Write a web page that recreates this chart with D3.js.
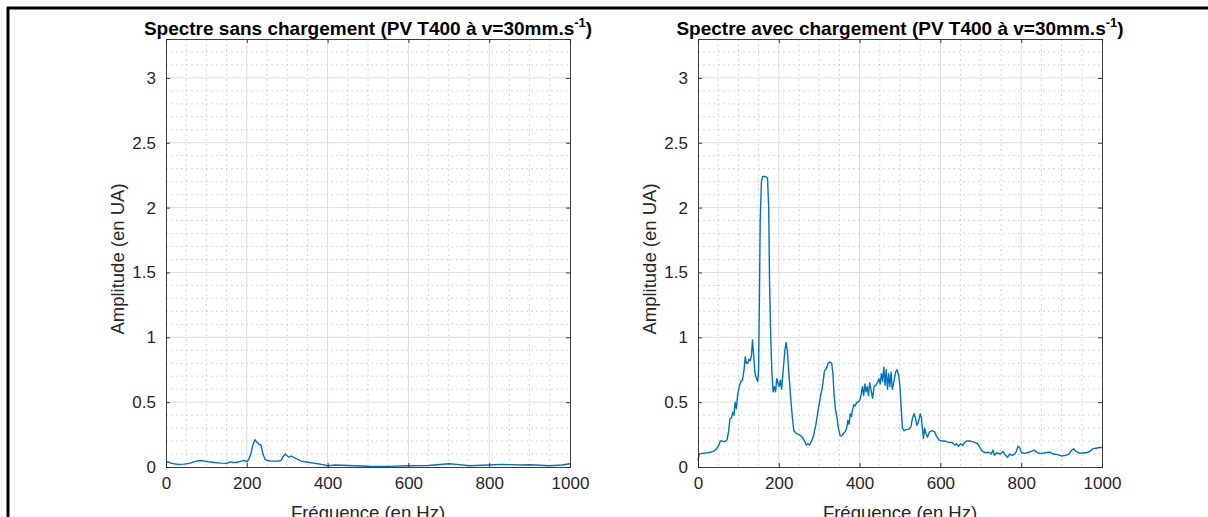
<!DOCTYPE html>
<html>
<head>
<meta charset="utf-8">
<script src="https://cdn.jsdelivr.net/npm/d3@7"></script>
<style>
  body { margin: 0; background: #fff; }
  svg { display: block; font-family: "Liberation Sans", Arial, Helvetica, sans-serif; }
</style>
</head>
<body>
<div id="chart"></div>
<script>
// values: [frequency (Hz), amplitude (UA)]
var sansPoints = [
  [0,0.035],[5,0.04],[12,0.03],[20,0.025],[30,0.02],[45,0.022],[60,0.03],[75,0.045],[85,0.05],
  [95,0.045],[105,0.04],[120,0.035],[135,0.03],[150,0.028],[160,0.04],[165,0.035],[175,0.035],
  [185,0.045],[195,0.05],[200,0.04],[205,0.06],[210,0.1],[215,0.17],[220,0.21],[225,0.19],
  [230,0.175],[235,0.17],[240,0.1],[245,0.06],[250,0.05],[260,0.045],[275,0.045],[285,0.05],
  [290,0.08],[295,0.1],[300,0.085],[305,0.075],[310,0.085],[318,0.07],[325,0.06],[335,0.045],
  [345,0.04],[355,0.035],[365,0.03],[375,0.025],[385,0.02],[400,0.01],[420,0.015],[450,0.012],
  [500,0.006],[550,0.005],[600,0.01],[650,0.012],[700,0.025],[720,0.02],[750,0.01],[800,0.015],
  [830,0.02],[850,0.018],[880,0.015],[900,0.017],[950,0.01],[980,0.015],[1000,0.025]
];

var avecPoints = [
  [0,0.05],[3,0.1],[10,0.105],[25,0.11],[38,0.12],[46,0.14],[52,0.17],[55,0.2],[60,0.2],[66,0.195],
  [72,0.21],[76,0.28],[79,0.37],[83,0.38],[86,0.42],[89,0.40],[92,0.5],[95,0.45],[98,0.55],
  [102,0.62],[106,0.66],[110,0.67],[114,0.75],[117,0.85],[120,0.80],[123,0.80],[126,0.83],
  [129,0.82],[132,0.85],[135,0.98],[138,0.85],[141,0.72],[145,0.68],[148,0.66],[150,0.75],
  [152,1.3],[154,1.9],[157,2.2],[160,2.24],[166,2.24],[172,2.23],[175,2.0],[177,1.45],[180,1.0],
  [183,0.72],[186,0.58],[189,0.62],[192,0.58],[195,0.68],[198,0.65],[201,0.62],[204,0.67],
  [207,0.6],[211,0.75],[215,0.9],[218,0.96],[221,0.9],[225,0.72],[229,0.55],[233,0.4],[237,0.28],
  [243,0.26],[250,0.25],[258,0.23],[264,0.2],[268,0.17],[272,0.18],[276,0.17],[281,0.2],
  [286,0.24],[292,0.33],[298,0.45],[303,0.54],[308,0.62],[313,0.74],[318,0.76],[322,0.8],
  [326,0.81],[331,0.8],[334,0.72],[337,0.55],[340,0.45],[344,0.38],[348,0.29],[352,0.24],
  [356,0.24],[360,0.26],[364,0.27],[368,0.30],[371,0.36],[374,0.33],[377,0.41],[380,0.39],
  [383,0.45],[386,0.48],[389,0.47],[393,0.5],[397,0.5],[401,0.52],[404,0.56],[407,0.62],
  [410,0.55],[413,0.64],[416,0.58],[419,0.62],[422,0.55],[425,0.65],[428,0.6],[432,0.53],
  [436,0.62],[440,0.63],[444,0.65],[448,0.68],[451,0.64],[454,0.72],[457,0.66],[460,0.77],
  [463,0.63],[466,0.75],[469,0.6],[472,0.72],[475,0.62],[478,0.73],[481,0.6],[485,0.66],
  [489,0.73],[493,0.75],[497,0.7],[500,0.62],[503,0.45],[506,0.3],[510,0.28],[516,0.29],
  [522,0.29],[527,0.31],[531,0.38],[535,0.41],[539,0.37],[542,0.32],[546,0.35],[550,0.41],
  [553,0.38],[556,0.28],[558,0.22],[561,0.3],[564,0.26],[568,0.23],[573,0.27],[580,0.28],
  [586,0.27],[590,0.24],[596,0.21],[603,0.2],[612,0.2],[620,0.19],[628,0.19],[636,0.17],
  [640,0.18],[645,0.16],[650,0.18],[655,0.165],[660,0.19],[665,0.2],[675,0.2],[685,0.19],
  [692,0.18],[698,0.15],[704,0.12],[712,0.11],[720,0.115],[726,0.1],[730,0.13],[734,0.09],
  [740,0.11],[748,0.1],[755,0.12],[760,0.095],[766,0.075],[772,0.1],[778,0.09],[784,0.1],
  [788,0.12],[792,0.16],[796,0.15],[801,0.11],[808,0.105],[815,0.11],[825,0.12],[832,0.13],
  [840,0.11],[850,0.105],[860,0.11],[870,0.115],[880,0.1],[890,0.095],[900,0.085],[910,0.09],
  [918,0.1],[925,0.13],[930,0.14],[936,0.12],[945,0.105],[955,0.11],[962,0.11],[970,0.12],
  [977,0.14],[985,0.145],[993,0.15],[1000,0.15]
];

var titles = ["Spectre sans chargement (PV T400 à v=30mm.s", "Spectre avec chargement (PV T400 à v=30mm.s"];
var xTicks = [0, 200, 400, 600, 800, 1000];
var yTicks = [0, 0.5, 1, 1.5, 2, 2.5, 3];
var xLabel = "Fréquence (en Hz)";
var yLabel = "Amplitude (en UA)";

var width = 1208, height = 517;
var axisColor = "#262626", lineColor = "#0072BD";

var svg = d3.select("#chart").append("svg")
  .attr("width", width)
  .attr("height", height);

// outer frame (top + left)
svg.append("line").attr("x1", 7).attr("x2", width).attr("y1", 8).attr("y2", 8)
  .style("stroke", "#000").style("stroke-width", 3);
svg.append("line").attr("x1", 8).attr("x2", 8).attr("y1", 7).attr("y2", height)
  .style("stroke", "#000").style("stroke-width", 3);

/******************************draw one panel***************************************/
function panel(points, title, left) {
  var w = 404, h = 428, top = 39;
  var g = svg.append("g").attr("transform", "translate(" + left + "," + top + ")");

  var x = d3.scaleLinear().domain([0, 1000]).range([0, w]);
  var y = d3.scaleLinear().domain([0, 3.3]).range([h, 0]);

  // minor grid
  g.selectAll(".minorx").data(d3.range(50, 1000, 50).filter(function(d){ return d % 200; }))
    .enter().append("line")
    .attr("x1", x).attr("x2", x).attr("y1", 0).attr("y2", h)
    .style("stroke", "#cccccc").style("stroke-width", 0.8).style("stroke-dasharray", "2,3");
  g.selectAll(".minory").data(d3.range(1, 33).map(function(d){ return d / 10; }).filter(function(d){ return Math.round(d * 10) % 5; }))
    .enter().append("line")
    .attr("y1", y).attr("y2", y).attr("x1", 0).attr("x2", w)
    .style("stroke", "#cccccc").style("stroke-width", 0.8).style("stroke-dasharray", "2,3");

  // major grid
  g.selectAll(".gx").data(xTicks.slice(1, -1)).enter().append("line")
    .attr("x1", x).attr("x2", x).attr("y1", 0).attr("y2", h)
    .style("stroke", "#dcdcdc").style("stroke-width", 1);
  g.selectAll(".gy").data(yTicks.slice(1)).enter().append("line")
    .attr("y1", y).attr("y2", y).attr("x1", 0).attr("x2", w)
    .style("stroke", "#dcdcdc").style("stroke-width", 1);

  // curve
  var line = d3.line()
    .x(function(d){ return x(d[0]); })
    .y(function(d){ return y(d[1]); });
  g.append("path").datum(points)
    .attr("d", line)
    .style("fill", "none")
    .style("stroke", lineColor)
    .style("stroke-width", 1.4)
    .style("stroke-linejoin", "round");

  // axes (ticks inward, mirrored on all sides)
  var ax = [
    d3.axisBottom(x).tickValues(xTicks).tickSize(-4).tickPadding(10).tickFormat(d3.format("d")),
    d3.axisTop(x).tickValues(xTicks).tickSize(-4).tickFormat(""),
    d3.axisLeft(y).tickValues(yTicks).tickSize(-4).tickPadding(10).tickFormat(d3.format("~g")),
    d3.axisRight(y).tickValues(yTicks).tickSize(-4).tickFormat("")
  ];
  var pos = ["translate(0," + h + ")", "translate(0,0)", "translate(0,0)", "translate(" + w + ",0)"];
  ax.forEach(function(a, i) {
    var ag = g.append("g").attr("transform", pos[i]).call(a);
    ag.select(".domain").style("stroke", axisColor).style("stroke-width", 0.9);
    ag.selectAll(".tick line").style("stroke", axisColor).style("stroke-width", 0.9);
    ag.selectAll(".tick text").style("fill", axisColor).style("font-size", "17px");
  });

  // titles and labels
  var t = g.append("text")
    .attr("x", w / 2).attr("y", -4)
    .style("text-anchor", "middle")
    .style("font-weight", "bold")
    .style("font-size", "19px")
    .style("fill", "#000")
    .text(title);
  t.append("tspan").attr("dy", -8).style("font-size", "13px").text("-1");
  t.append("tspan").attr("dy", 8).text(")");

  g.append("text")
    .attr("x", w / 2).attr("y", h + 52)
    .style("text-anchor", "middle")
    .style("font-size", "18.5px")
    .style("fill", axisColor)
    .text(xLabel);

  g.append("text")
    .attr("transform", "translate(-42," + (h / 2 + 6) + ") rotate(-90)")
    .style("text-anchor", "middle")
    .style("font-size", "18.5px")
    .style("fill", axisColor)
    .text(yLabel);
}

panel(sansPoints, titles[0], 166);
panel(avecPoints, titles[1], 698);
</script>
</body>
</html>
